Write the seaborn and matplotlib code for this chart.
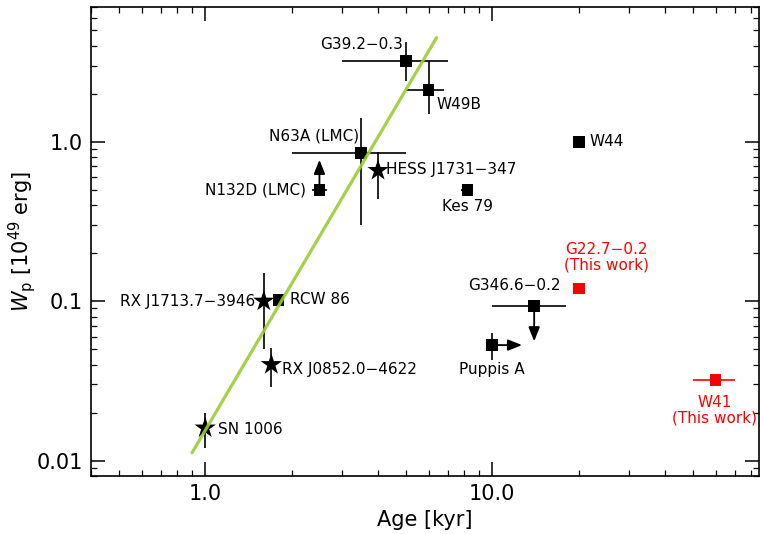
import matplotlib
matplotlib.use("Agg")
import matplotlib.pyplot as plt
import seaborn as sns
import pandas as pd
import numpy as np
from matplotlib.ticker import FixedLocator, FixedFormatter, LogLocator, NullFormatter

# ---------------- data ----------------
names = ["SN 1006", "RX J1713.7\u22123946", "RCW 86", "RX J0852.0\u22124622",
         "N132D (LMC)", "N63A (LMC)", "HESS J1731\u2212347", "G39.2\u22120.3",
         "W49B", "Kes 79", "W44", "G346.6\u22120.2", "Puppis A",
         "G22.7\u22120.2\n(This work)", "W41\n(This work)"]
age = [1.0, 1.6, 1.8, 1.7, 2.5, 3.5, 4.0, 5.0, 6.0, 8.2, 20.0, 14.0, 10.0, 20.0, 60.0]
wp = [0.016, 0.1, 0.102, 0.04, 0.5, 0.85, 0.66, 3.2, 2.1, 0.5, 1.0, 0.093, 0.053, 0.12, 0.032]
age_err_lo = [0, 0, 0, 0, 0.15, 1.5, 0, 2.0, 1.0, 0.4, 0, 4.0, 0, 0, 10.0]
age_err_hi = [0, 0, 0, 0, 0.15, 1.5, 0, 2.0, 0.8, 0.4, 0, 4.0, 0, 0, 10.0]
wp_err_lo = [0.004, 0.05, 0, 0.011, 0, 0.55, 0.22, 0.8, 0.6, 0, 0, 0, 0.01, 0, 0]
wp_err_hi = [0.004, 0.05, 0, 0.011, 0, 0.56, 0.20, 1.0, 1.1, 0, 0, 0, 0.01, 0, 0]
shape = ["star", "star", "square", "star", "square", "square", "star", "square",
         "square", "square", "square", "square", "square", "square", "square"]
group = ["lit"] * 13 + ["this"] * 2

# limits (arrows): source name -> (age end, wp end)
limit_names = ["N132D (LMC)", "G346.6\u22120.2", "Puppis A"]
limit_age_end = [2.5, 14.0, 12.7]
limit_wp_end = [0.77, 0.056, 0.053]

# fitted trend line endpoints
line_age = [0.9, 6.4]
line_wp = [0.0112, 4.5]

x_ticks = [1.0, 10.0]
x_ticklabels = ["1.0", "10.0"]
y_ticks = [0.01, 0.1, 1.0]
y_ticklabels = ["0.01", "0.1", "1.0"]

# ---------------- styling / layout ----------------
label_offsets = {  # pixels (dx, dy), horizontal alignment
    "SN 1006": (13, -1, "left"),
    "RX J1713.7\u22123946": (-9, 0, "right"),
    "RCW 86": (12, 0, "left"),
    "RX J0852.0\u22124622": (11, -5, "left"),
    "N132D (LMC)": (-13, 0, "right"),
    "N63A (LMC)": (-2, 17, "right"),
    "HESS J1731\u2212347": (8, 1, "left"),
    "G39.2\u22120.3": (-3, 17, "right"),
    "W49B": (8, -14, "left"),
    "Kes 79": (0, -17, "center"),
    "W44": (11, 0, "left"),
    "G346.6\u22120.2": (-20, 21, "center"),
    "Puppis A": (0, -24, "center"),
    "G22.7\u22120.2\n(This work)": (28, 31, "center"),
    "W41\n(This work)": (-1, -30, "center"),
}
colors = {"lit": "black", "this": "red"}

df = pd.DataFrame(dict(name=names, age=age, wp=wp, xlo=age_err_lo, xhi=age_err_hi,
                       ylo=wp_err_lo, yhi=wp_err_hi, shape=shape, group=group))

sns.set_style("ticks")
plt.rcParams["font.family"] = ["DejaVu Sans"]
plt.rcParams["mathtext.fontset"] = "dejavusans"
plt.rcParams["text.color"] = "black"
plt.rcParams["axes.labelcolor"] = "black"

fig = plt.figure(figsize=(7.6, 5.34), dpi=100)
ax = fig.add_axes([91 / 760, 58 / 534, 668 / 760, 469 / 534])
ax.set_xscale("log")
ax.set_yscale("log")

# error bars
for _, r in df.iterrows():
    if r.xlo or r.xhi or r.ylo or r.yhi:
        ax.errorbar(r.age, r.wp,
                    xerr=[[r.xlo], [r.xhi]] if (r.xlo or r.xhi) else None,
                    yerr=[[r.ylo], [r.yhi]] if (r.ylo or r.yhi) else None,
                    fmt="none", ecolor=colors[r.group], elinewidth=1.2, capsize=0, zorder=2)

# limit arrows
for nm, xe, ye in zip(limit_names, limit_age_end, limit_wp_end):
    r = df[df.name == nm].iloc[0]
    ax.annotate("", xy=(xe, ye), xytext=(r.age, r.wp),
                arrowprops=dict(arrowstyle="-|>,head_length=0.5,head_width=0.2",
                                mutation_scale=17, color="black", lw=1.3,
                                shrinkA=0, shrinkB=0), zorder=2)

# markers
sq = df[df["shape"] == "square"]
st = df[df["shape"] == "star"]
sns.scatterplot(data=sq, x="age", y="wp", hue="group", palette=colors, marker="s",
                s=72, linewidth=0, legend=False, ax=ax, zorder=3)
sns.scatterplot(data=st, x="age", y="wp", hue="group", palette=colors, marker="*",
                s=260, linewidth=0, legend=False, ax=ax, zorder=3)

# trend line
sns.lineplot(x=line_age, y=line_wp, color="#9acd32", alpha=0.9, lw=2.3, ax=ax, zorder=4)

# labels
for _, r in df.iterrows():
    dx, dy, ha = label_offsets[r["name"]]
    ax.annotate(r["name"], (r.age, r.wp), xytext=(dx, dy), textcoords="offset pixels",
                ha=ha, va="center", fontsize=11, color=colors[r.group],
                linespacing=1.05, zorder=5)

ax.set_xlim(0.4, 85)
ax.set_ylim(0.008, 7)
ax.xaxis.set_major_locator(FixedLocator(x_ticks))
ax.xaxis.set_major_formatter(FixedFormatter(x_ticklabels))
ax.yaxis.set_major_locator(FixedLocator(y_ticks))
ax.yaxis.set_major_formatter(FixedFormatter(y_ticklabels))
ax.xaxis.set_minor_locator(LogLocator(base=10, subs=np.arange(2, 10)))
ax.yaxis.set_minor_locator(LogLocator(base=10, subs=np.arange(2, 10)))
ax.xaxis.set_minor_formatter(NullFormatter())
ax.yaxis.set_minor_formatter(NullFormatter())
ax.tick_params(which="both", direction="in", top=True, right=True, colors="black")
ax.tick_params(which="major", length=10, width=1.1, labelsize=15, pad=6)
ax.tick_params(which="minor", length=4.5, width=0.9)
for s in ax.spines.values():
    s.set_linewidth(1.2)
    s.set_color("black")

ax.set_xlabel("Age [kyr]", fontsize=15)
ax.set_ylabel(r"$W_{\rm p}$ [10$^{49}$ erg]", fontsize=15, labelpad=-1)

fig.savefig("out.png", dpi=100)
